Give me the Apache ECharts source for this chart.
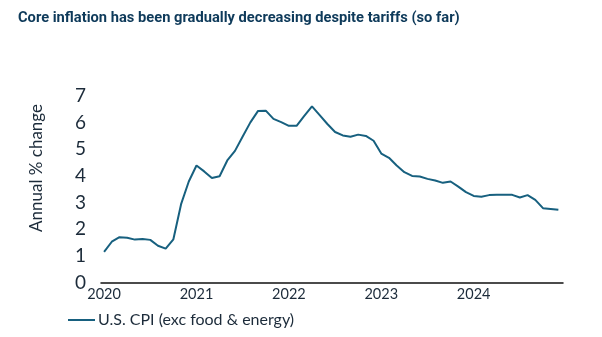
<!DOCTYPE html>
<html>
<head>
<meta charset="utf-8">
<script src="https://cdn.jsdelivr.net/npm/echarts@6/dist/echarts.min.js"></script>
<style>
html,body{margin:0;padding:0;background:#fff;}
#c{width:602px;height:337px;}
</style>
</head>
<body>
<div id="c"></div>
<script>
// Monthly, Jan 2020 .. Dec 2024
const years = ['2020','2021','2022','2023','2024'];
const cpiCore = [
  1.15, 1.53, 1.70, 1.68, 1.61, 1.63, 1.60, 1.38, 1.27, 1.62, 2.94, 3.79,
  4.39, 4.17, 3.92, 3.99, 4.58, 4.94, 5.48, 6.01, 6.44, 6.45, 6.14, 6.02,
  5.88, 5.88, 6.25, 6.61, 6.28, 5.95, 5.65, 5.52, 5.47, 5.55, 5.50, 5.32,
  4.84, 4.68, 4.39, 4.14, 4.00, 3.98, 3.89, 3.83, 3.74, 3.79, 3.60, 3.39,
  3.25, 3.22, 3.28, 3.29, 3.29, 3.29, 3.19, 3.28, 3.10, 2.79, 2.76, 2.73
];
const seriesName = 'U.S. CPI (exc food & energy)';

const data = cpiCore.map((v, i) => [i, v]);
const yearTicks = years.map((y, i) => i * 12);

const chart = echarts.init(document.getElementById('c'), null, {renderer: 'canvas'});
chart.setOption({
  animation: false,
  backgroundColor: '#ffffff',
  title: {
    text: 'Core inflation has been gradually decreasing despite tariffs (so far)',
    left: 13, top: 6,
    textStyle: {fontFamily: 'Roboto', fontWeight: 'bold', fontSize: 14.7, color: '#0e3a5a'}
  },
  graphic: [{
    type: 'text',
    left: 28, top: 104,
    rotation: Math.PI / 2,
    style: {text: 'Annual % change', fontFamily: 'Lato', fontSize: 17, fill: '#1c2b3a',
            textAlign: 'center', textVerticalAlign: 'middle'}
  }],
  legend: {
    data: [seriesName],
    left: 68, top: 312, padding: 0,
    icon: 'rect', itemWidth: 27, itemHeight: 2, itemGap: 4,
    textStyle: {fontFamily: 'Lato', fontSize: 16, color: '#1c2b3a', padding: [0,0,0,-2]}
  },
  grid: {left: 101, right: 39, top: 96, bottom: 337 - 282.5, containLabel: false},
  xAxis: {
    type: 'value', min: -0.4, max: 59.6,
    axisLine: {show: true, lineStyle: {color: '#111', width: 1.5}},
    axisTick: {show: false},
    splitLine: {show: false},
    axisLabel: {
      customValues: yearTicks,
      formatter: v => years[Math.round(v / 12)] || '',
      fontFamily: 'Lato', fontSize: 14.5, color: '#1c2b3a', margin: 4
    }
  },
  yAxis: {
    type: 'value', min: 0, max: 7, interval: 1,
    axisLine: {show: false}, axisTick: {show: false}, splitLine: {show: false},
    axisLabel: {fontFamily: 'Lato', fontSize: 19, color: '#1c2b3a', margin: 15}
  },
  series: [{
    name: seriesName, type: 'line', data: data,
    showSymbol: false, symbol: 'none',
    lineStyle: {color: '#17607f', width: 2},
    itemStyle: {color: '#17607f'}
  }]
});
</script>
</body>
</html>
